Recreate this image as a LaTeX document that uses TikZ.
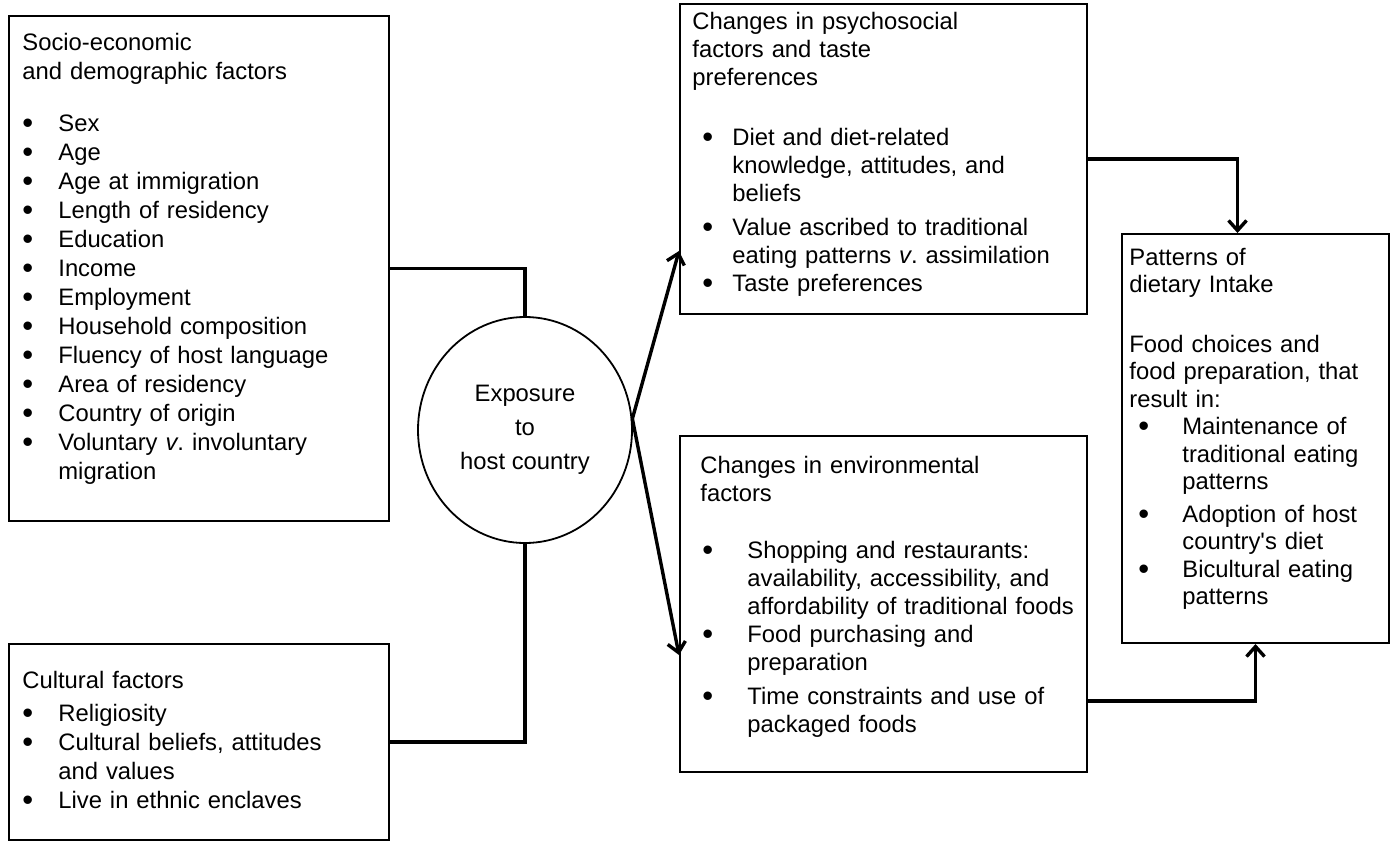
\documentclass[tikz,border=0pt]{standalone}
\usepackage{fontspec}
\setmainfont{Liberation Sans}
\usetikzlibrary{shapes.geometric,arrows.meta}
\newcommand{\bul}[2][0pt]{\hspace*{#1}\makebox[#2][l]{\raisebox{-1.2pt}{\fontsize{15.5}{0}\selectfont\textbullet}}}
\newcommand{\ind}[1]{\hspace*{#1}}
\frenchspacing

\begin{document}
\begin{tikzpicture}[x=0.5pt, y=-0.5pt, >={Straight Barb[length=5pt,width=9pt]},
  box/.style={draw, line width=1pt, anchor=north west, inner sep=0pt},
  txt/.style={anchor=base west, inner sep=0pt, align=left, text width=200pt, font=\fontsize{11.9}{#1}\selectfont},
  txt/.default=14.5pt,
  link/.style={line width=1.7pt}]

\useasboundingbox (0,0) rectangle (1400,851);

\node(SE) at (8,15)[box, minimum width=190pt, minimum height=252.5pt]{};
\node(SEt) at (22,50)[txt]{Socio-economic\\
and demographic factors\\[11.5pt]
\bul{18pt}Sex\\
\bul{18pt}Age\\
\bul{18pt}Age at immigration\\
\bul{18pt}Length of residency\\
\bul{18pt}Education\\
\bul{18pt}Income\\
\bul{18pt}Employment\\
\bul{18pt}Household composition\\
\bul{18pt}Fluency of host language\\
\bul{18pt}Area of residency\\
\bul{18pt}Country of origin\\
\bul{18pt}Voluntary \textit{v}. involuntary\\
\ind{18pt}migration};

\node(CF) at (8,643)[box, minimum width=190pt, minimum height=98pt]{};
\node(CFt) at (22,688)[txt]{Cultural factors\\[2pt]
\bul{18pt}Religiosity\\
\bul{18pt}Cultural beliefs, attitudes\\
\ind{18pt}and values\\
\bul{18pt}Live in ethnic enclaves};

\node(EX) at (525,430)[ellipse, draw, line width=0.9pt, minimum width=107pt, minimum height=113pt, inner sep=0pt, align=center, font=\fontsize{11.9}{17}\selectfont]{Exposure\\to\\host country};

\node(PS) at (679,3)[box, minimum width=203.5pt, minimum height=155pt]{};
\node(PSt) at (692,29)[txt=14pt]{Changes in psychosocial\\
factors and taste\\
preferences\\[16pt]
\bul[5pt]{15pt}Diet and diet-related\\
\ind{20pt}knowledge, attitudes, and\\
\ind{20pt}beliefs\\[3pt]
\bul[5pt]{15pt}Value ascribed to traditional\\
\ind{20pt}eating patterns \textit{v}. assimilation\\
\bul[5pt]{15pt}Taste preferences};

\node(EN) at (679,435)[box, minimum width=203.5pt, minimum height=168pt]{};
\node(ENt) at (700,473)[txt=14pt]{Changes in environmental\\
factors\\[14.5pt]
\bul[1pt]{22.5pt}Shopping and restaurants:\\
\ind{23.5pt}availability, accessibility, and\\
\ind{23.5pt}affordability of traditional foods\\
\bul[1pt]{22.5pt}Food purchasing and\\
\ind{23.5pt}preparation\\[3pt]
\bul[1pt]{22.5pt}Time constraints and use of\\
\ind{23.5pt}packaged foods};

\node(DI) at (1121,233)[box, minimum width=133.5pt, minimum height=204.5pt]{};
\node(DIt) at (1129,265)[txt=13.75pt]{Patterns of\\
dietary Intake\\[16pt]
Food choices and\\
food preparation, that\\
result in:\\
\bul[4.5pt]{22pt}Maintenance of\\
\ind{26.5pt}traditional eating\\
\ind{26.5pt}patterns\\[2.5pt]
\bul[4.5pt]{22pt}Adoption of host\\
\ind{26.5pt}country\textquotesingle s diet\\
\bul[4.5pt]{22pt}Bicultural eating\\
\ind{26.5pt}patterns};

\draw[link](SE.east) -| (EX.north);
\draw[link](CF.east) -| (EX.south);
\draw[link, ->](EX.6) -- ([yshift=-46pt]PS.west);
\draw[link, ->](EX.6) -- ([yshift=-25.5pt]EN.west);
\draw[link, ->](PS.east) -| ([xshift=-9pt]DI.north);
\draw[link, ->]([yshift=-48.5pt]EN.east) -| (DI.south);

\end{tikzpicture}
\end{document}
